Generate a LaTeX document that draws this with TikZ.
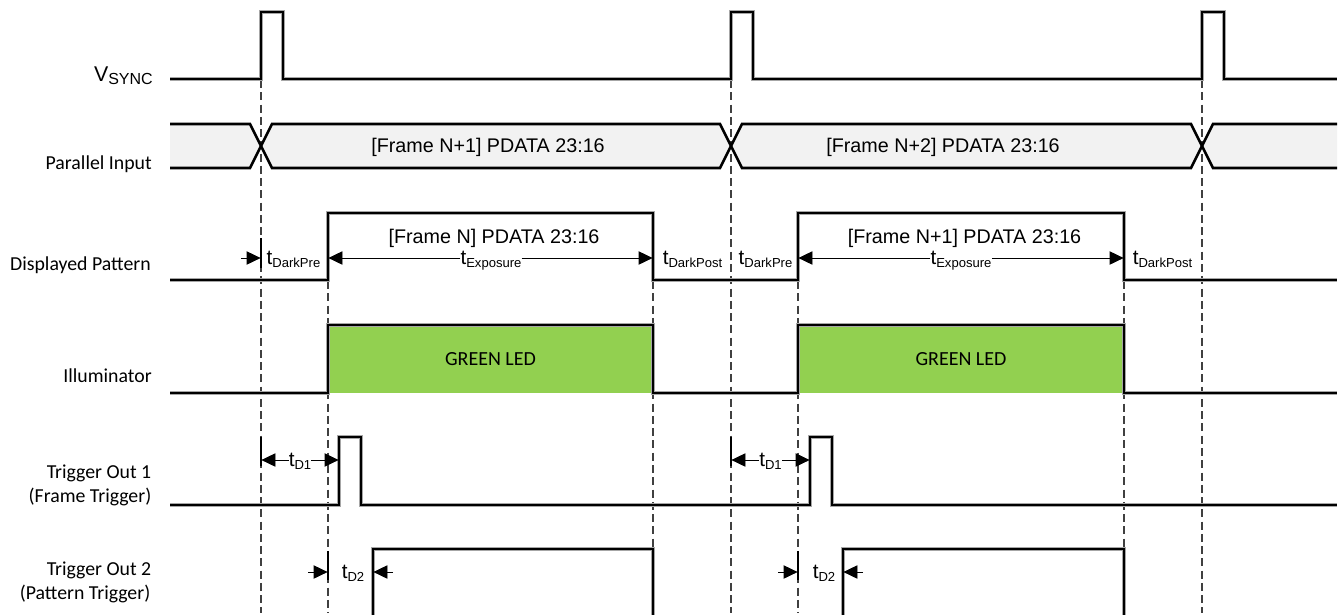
\documentclass[tikz,border=0pt]{standalone}
\usepackage{fontspec}
\setmainfont{Liberation Sans}
\newfontfamily\calib{Carlito}
\usetikzlibrary{arrows.meta}
\definecolor{ledgreen}{HTML}{92D050}
\definecolor{busfill}{HTML}{F2F2F2}
\definecolor{dashgray}{HTML}{404040}
\newcommand{\tsub}[2]{#1\raisebox{-2.6pt}{\fontsize{9.8}{12}\selectfont #2}}
\tikzset{
  x=0.75pt,y=-0.75pt,
  signal/.style={line width=2.2pt,line join=miter,black,preaction={draw,line width=2.6pt,black!35}},
  busline/.style={line width=1.95pt,line join=miter,black},
  guide/.style={line width=0.9pt,dashgray,dash pattern=on 6pt off 3.2pt},
  tick/.style={line width=1pt,black},
  dimline/.style={line width=0.6pt,-{Triangle[length=10.5pt,width=10pt]},shorten >=0.3pt},
  rowlabel/.style={anchor=base east,inner sep=0pt,font=\calib\fontsize{14.85}{16}\selectfont},
  arial/.style={anchor=base,inner sep=0pt,font=\fontsize{14.8}{16}\selectfont},
  timelabel/.style={anchor=base,inner sep=0pt,font=\fontsize{15.5}{16}\selectfont},
  ledlabel/.style={anchor=center,inner sep=0pt,font=\calib\fontsize{15}{14}\selectfont},
}
\begin{document}
\begin{tikzpicture}
\useasboundingbox (0,0) rectangle (1338,615);
% bus fill
\fill[busfill] (170,124) -- (250,124) -- (261,146) -- (250,168) -- (170,168) -- cycle;
\fill[busfill] (272,124) -- (720,124) -- (731,146) -- (720,168) -- (272,168) -- (261,146) -- cycle;
\fill[busfill] (742,124) -- (1191,124) -- (1202,146) -- (1191,168) -- (742,168) -- (731,146) -- cycle;
\fill[busfill] (1213,124) -- (1337,124) -- (1337,168) -- (1213,168) -- (1202,146) -- cycle;
% green
\fill[ledgreen] (328,325) rectangle (653,393);
\fill[ledgreen] (798,325) rectangle (1124,393);
% guides
\foreach \gx in {261,731,1202} \draw[guide] (\gx,80) -- (\gx,613);
\foreach \gx in {328,653,798,1124} \draw[guide] (\gx,281) -- (\gx,613);
% signals
\draw[signal] (170,79) -- (261,79) -- (261,12) -- (283,12) -- (283,79) -- (731,79) -- (731,12) -- (753,12) -- (753,79) -- (1202,79) -- (1202,12) -- (1224,12) -- (1224,79) -- (1337,79);
\draw[busline] (170,124) -- (250,124) -- (272,168) -- (720,168) -- (742,124) -- (1191,124) -- (1213,168) -- (1337,168);
\draw[busline] (170,168) -- (250,168) -- (272,124) -- (720,124) -- (742,168) -- (1191,168) -- (1213,124) -- (1337,124);
\draw[signal] (170,280) -- (328,280) -- (328,213) -- (653,213) -- (653,280) -- (798,280) -- (798,213) -- (1124,213) -- (1124,280) -- (1337,280);
\draw[signal] (170,393) -- (328,393) -- (328,325) -- (653,325) -- (653,393) -- (798,393) -- (798,325) -- (1124,325) -- (1124,393) -- (1337,393);
\draw[signal] (170,505) -- (339,505) -- (339,437) -- (361,437) -- (361,505) -- (810,505) -- (810,437) -- (832,437) -- (832,505) -- (1337,505);
\draw[signal] (373,615) -- (373,549) -- (653,549) -- (653,615);
\draw[signal] (843,615) -- (843,549) -- (1124,549) -- (1124,615);
% row labels
\node[rowlabel] (lp) at (152,169) {Parallel Input};
\node[rowlabel] (ld) at (151,270) {Displayed Pattern};
\node[rowlabel] (li) at (152,382) {Illuminator};
\node[rowlabel] (lt1a) at (151.5,478) {Trigger Out 1};
\node[rowlabel] (lt1b) at (151.5,502) {(Frame Trigger)};
\node[rowlabel] (lt2a) at (151.5,575) {Trigger Out 2};
\node[rowlabel] (lt2b) at (150.5,599) {(Pattern Trigger)};
\node[anchor=base east,inner sep=0pt,font=\fontsize{16}{16}\selectfont] (lv) at (153,81) {\tsub{V}{\fontsize{12}{12}\selectfont SYNC}};
% data labels
\node[arial] (b1) at (488,152) {[Frame N+1] PDATA 23:16};
\node[arial] (b2) at (943,152) {[Frame N+2] PDATA 23:16};
\node[arial] (d1) at (494,243) {[Frame N] PDATA 23:16};
\node[arial] (d2) at (964.5,243) {[Frame N+1] PDATA 23:16};
\node[ledlabel] (g1) at (490.5,359) {GREEN LED};
\node[ledlabel] (g2) at (961,359) {GREEN LED};
% timing ticks
\coordinate (a1) at (261,258);
\coordinate (a2) at (328,258);
\coordinate (a3) at (653,258);
\coordinate (a4) at (798,258);
\coordinate (a5) at (1124,258);
\coordinate (s1) at (241,258);
\coordinate (t1a) at (261,460);
\coordinate (t1b) at (339,460);
\coordinate (t2a) at (731,460);
\coordinate (t2b) at (810,460);
\coordinate (u1) at (328,572);
\coordinate (u1f) at (308,572);
\coordinate (u2) at (373,572);
\coordinate (u2f) at (393,572);
\coordinate (u3) at (798,572);
\coordinate (u3f) at (778,572);
\coordinate (u4) at (843,572);
\coordinate (u4f) at (863,572);
\draw[tick] (261,238) -- (261,268);
\draw[tick] (261,437) -- (261,466);
\draw[tick] (731,437) -- (731,466);
\draw[tick] (328,551) -- (328,580);
\draw[tick] (798,551) -- (798,580);
% timing labels
\node[timelabel] (tp1) at (293.5,264) {\tsub{t}{DarkPre}};
\node[timelabel] (te1) at (491,264) {\tsub{t}{Exposure}};
\node[timelabel] (tq1) at (692.5,264) {\tsub{t}{DarkPost}};
\node[timelabel] (tp2) at (765.5,264) {\tsub{t}{DarkPre}};
\node[timelabel] (te2) at (961,264) {\tsub{t}{Exposure}};
\node[timelabel] (tq2) at (1162.5,264) {\tsub{t}{DarkPost}};
\node[timelabel] (td1) at (300,466) {\tsub{t}{D1}};
\node[timelabel] (td2) at (770.5,466) {\tsub{t}{D1}};
\node[timelabel] (te3) at (353,578) {\tsub{t}{D2}};
\node[timelabel] (te4) at (824,578) {\tsub{t}{D2}};
% dimension arrows
\draw[dimline] (s1) -- (a1);
\draw[dimline] (te1.west |- a2) -- (a2);
\draw[dimline] (te1.east |- a3) -- (a3);
\draw[dimline] (te2.west |- a4) -- (a4);
\draw[dimline] (te2.east |- a5) -- (a5);
\draw[dimline] (td1.west |- t1a) -- (t1a);
\draw[dimline] (td1.east |- t1b) -- (t1b);
\draw[dimline] (td2.west |- t2a) -- (t2a);
\draw[dimline] (td2.east |- t2b) -- (t2b);
\draw[dimline] (u1f) -- (u1);
\draw[dimline] (u2f) -- (u2);
\draw[dimline] (u3f) -- (u3);
\draw[dimline] (u4f) -- (u4);
\end{tikzpicture}
\end{document}
